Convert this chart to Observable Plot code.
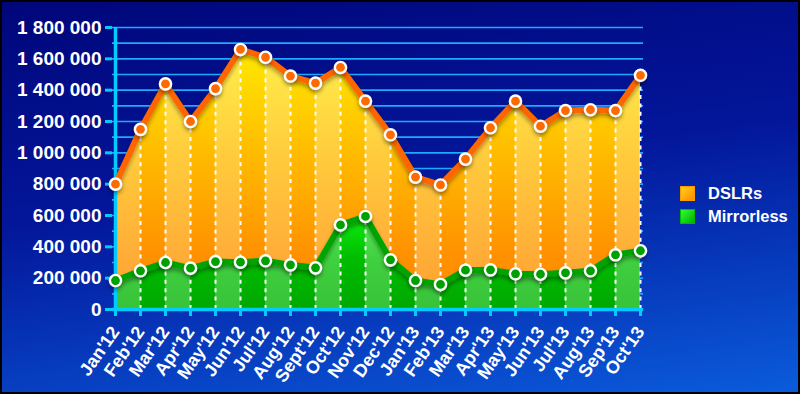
<!DOCTYPE html>
<html>
<head>
<meta charset="utf-8">
<script src="https://cdn.jsdelivr.net/npm/d3@7"></script>
<script src="https://cdn.jsdelivr.net/npm/@observablehq/plot@0.6"></script>
<style>
  html, body { margin: 0; padding: 0; }
  body { width: 800px; height: 394px; overflow: hidden; }
  #wrap { position: relative; width: 800px; height: 394px;
    background: linear-gradient(172deg, #00067a 0%, #03169a 45%, #0a5cdc 100%);
    font-family: "Liberation Sans", Arial, sans-serif; }
  #chart { position: absolute; left: 0; top: 0; }
  #frame { position: absolute; inset: 0; box-shadow: inset 0 0 0 2px #000; pointer-events: none; }
  #legend { position: absolute; left: 680px; top: 182px; color: #fff; font-weight: bold; font-size: 16.5px; }
  #legend .row { display: flex; align-items: center; height: 23px; }
  #legend .sw { width: 15px; height: 15px; margin-right: 13px; box-sizing: border-box; }
  g[aria-label^="y-axis"] path, g[aria-label^="x-axis"] path { stroke: #00ccff; stroke-width: 3px; }
  g[aria-label^="x-axis"] text { font-size: 18px; }
</style>
</head>
<body>
<div id="wrap">
  <div id="chart"></div>
  <div id="legend"></div>
  <div id="frame"></div>
</div>
<script>
const months = ["Jan'12","Feb'12","Mar'12","Apr'12","May'12","Jun'12","Jul'12","Aug'12","Sept'12","Oct'12","Nov'12","Dec'12",
                "Jan'13","Feb'13","Mar'13","Apr'13","May'13","Jun'13","Jul'13","Aug'13","Sep'13","Oct'13"];
const dslr = [800000,1150000,1440000,1200000,1410000,1660000,1610000,1490000,1445000,1545000,1330000,1115000,
              845000,795000,960000,1160000,1330000,1170000,1270000,1275000,1270000,1495000];
const mirrorless = [185000,247000,300000,264000,306000,302000,311000,285000,266000,540000,594000,317000,
                    185000,160000,251000,253000,228000,225000,234000,247000,349000,375000];
const yTicks = [0,200000,400000,600000,800000,1000000,1200000,1400000,1600000,1800000];
const gridLines = [100000,200000,300000,400000,500000,600000,700000,800000,900000,1000000,1100000,1200000,1300000,1400000,1500000,1600000,1700000,1800000];
const seriesNames = ["DSLRs","Mirrorless"];

const data = months.map((m, i) => ({month: m, dslr: dslr[i], mirrorless: mirrorless[i]}));
const bands = [0].concat(gridLines.slice(0, -1)).map((v, k) => ({y1: v, y2: gridLines[k], k}));
function segs(values) {
  const out = [];
  for (let i = 0; i < months.length - 1; i++) {
    out.push({month: months[i], v: values[i], seg: i});
    out.push({month: months[i + 1], v: values[i + 1], seg: i});
  }
  return out;
}
const dSegs = segs(dslr).filter(d => d.seg % 2 === 0);
const mSegs = segs(mirrorless).filter(d => d.seg % 2 === 0);

const fmt = d3.formatLocale({thousands: "\u00a0", grouping: [3], decimal: ".", currency: ["", ""]}).format(",");

const chart = Plot.plot({
  width: 800, height: 394,
  marginLeft: 112, marginRight: 157, marginTop: 27, marginBottom: 85,
  style: {background: "transparent", color: "white", fontFamily: "'Liberation Sans', Arial, sans-serif",
          fontSize: "19px", fontWeight: "bold", overflow: "visible"},
  x: {type: "point", domain: months, padding: 0, tickRotate: -55, tickSize: 7, tickPadding: 12, label: null},
  y: {domain: [0, 1800000], ticks: yTicks, tickFormat: fmt, tickSize: 7, tickPadding: 4, label: null},
  marks: [
    Plot.rectY(bands, {x1: months[0], x2: months[months.length - 1], y1: "y1", y2: "y2",
      fill: d => d.k % 2 ? "#0a2c9c" : "#051585"}),
    Plot.ruleY(gridLines, {stroke: "#1eaaff", strokeWidth: 1.6}),
    Plot.areaY(data, {x: "month", y: "dslr", fill: "url(#orangeDark)"}),
    Plot.areaY(dSegs, {x: "month", y: "v", z: "seg", fill: "url(#orangeLight)"}),
    Plot.areaY(data, {x: "month", y: "mirrorless", fill: "url(#greenDark)"}),
    Plot.areaY(mSegs, {x: "month", y: "v", z: "seg", fill: "url(#greenLight)"}),
    Plot.ruleX(data, {x: "month", y1: 0, y2: "dslr", stroke: "white", strokeWidth: 2, strokeDasharray: "4,4.4"}),
    Plot.ruleY([0], {stroke: "#00ccff", strokeWidth: 3.5}),
    Plot.ruleX([months[0]], {y1: 0, y2: 1800000, stroke: "#00ccff", strokeWidth: 3.5}),
    Plot.line(data, {x: "month", y: "dslr", stroke: "#ff6600", strokeWidth: 6, strokeLinejoin: "round"}),
    Plot.line(data, {x: "month", y: "mirrorless", stroke: "#00a400", strokeWidth: 6, strokeLinejoin: "round"}),
    Plot.dot(data, {x: "month", y: "dslr", r: 5.6, fill: "#ff6a00", stroke: "white", strokeWidth: 2.4}),
    Plot.dot(data, {x: "month", y: "mirrorless", r: 5.6, fill: "#00a000", stroke: "white", strokeWidth: 2.4})
  ]
});

const ys = chart.scale("y");
const yTop = ys.apply(1800000), yBot = ys.apply(0), yG = ys.apply(650000);
const svg = d3.select(chart);
const defs = svg.insert("defs", ":first-child");
function grad(id, y1, y2, stops) {
  const g = defs.append("linearGradient").attr("id", id).attr("gradientUnits", "userSpaceOnUse")
    .attr("x1", 0).attr("x2", 0).attr("y1", y1).attr("y2", y2);
  stops.forEach(([o, c]) => g.append("stop").attr("offset", o).attr("stop-color", c));
}
grad("orangeLight", yTop, yBot, [[0, "#fff45a"], [0.15, "#ffe848"], [0.45, "#ffcc3c"], [0.8, "#ffae38"], [1, "#ffa030"]]);
grad("orangeDark", yTop, yBot, [[0, "#fff000"], [0.15, "#ffe000"], [0.45, "#ffbb00"], [0.8, "#ff9200"], [1, "#ff8800"]]);
grad("greenLight", yG, yBot, [[0, "#5ef05e"], [0.5, "#40d040"], [1, "#38c238"]]);
grad("greenDark", yG, yBot, [[0, "#10f810"], [0.5, "#00bc00"], [1, "#00a800"]]);
const f = defs.append("filter").attr("id", "shadow").attr("x", "-10%").attr("y", "-20%").attr("width", "120%").attr("height", "150%");
f.append("feDropShadow").attr("dx", 0).attr("dy", 3).attr("stdDeviation", 2.2)
  .attr("flood-color", "#000").attr("flood-opacity", 0.35);
svg.selectAll('g[aria-label="line"], g[aria-label="dot"]').attr("filter", "url(#shadow)");

document.getElementById("chart").appendChild(chart);

const legendColors = ["linear-gradient(135deg, #ffd21a, #ff8a00)", "linear-gradient(135deg, #30ff30, #00b000)"];
const legendBorders = ["#ff9a00", "#00b800"];
const legend = d3.select("#legend");
seriesNames.forEach((name, i) => {
  const row = legend.append("div").attr("class", "row");
  row.append("div").attr("class", "sw").style("background", legendColors[i]).style("border", "1px solid " + legendBorders[i]);
  row.append("span").text(name);
});
</script>
</body>
</html>
